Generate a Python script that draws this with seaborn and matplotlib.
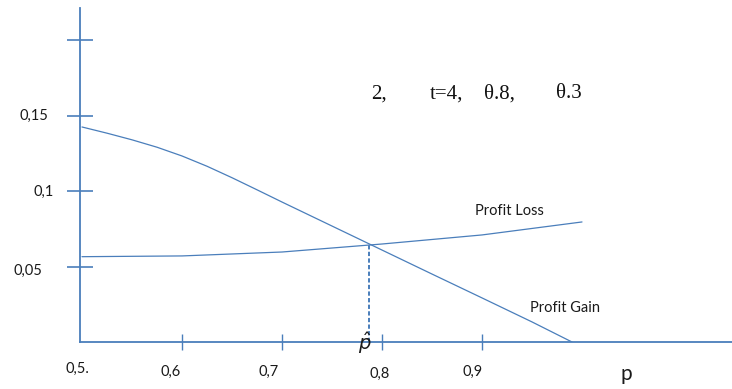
import matplotlib
matplotlib.use("Agg")
import matplotlib.pyplot as plt
import seaborn as sns
import pandas as pd

# Profit curves against p
gain_p = [0.50, 0.525, 0.55, 0.575, 0.60, 0.625, 0.65, 0.675, 0.70, 0.75,
          0.80, 0.85, 0.90, 0.95, 0.990]
gain_v = [0.1424, 0.1383, 0.1339, 0.1290, 0.1232, 0.1164, 0.1088, 0.1008, 0.0927, 0.0768,
          0.0609, 0.0450, 0.0292, 0.0133, 0.0]
loss_p = [0.50, 0.60, 0.70, 0.80, 0.90, 1.00]
loss_v = [0.0565, 0.0570, 0.0596, 0.0649, 0.0709, 0.0795]

p_hat = 0.787
p_hat_v = 0.0645

y_ticks = [0.05, 0.10, 0.15, 0.20]
y_labels = ["0,05", "0,1", "0,15", ""]
x_ticks = [0.6, 0.7, 0.8, 0.9]
x_labels = ["0,6", "0,7", "0,8", "0,9"]

params = ["2,", "t=4,", "θ.8,", "θ.3"]

blue = "#4a7ebb"

sns.set_theme(style="white")
plt.rcParams["font.family"] = ["Lato", "DejaVu Sans"]

fig = plt.figure(figsize=(7.32, 3.89), dpi=100)
ax = fig.add_axes([80 / 732, 47 / 389, 652 / 732, 334 / 389])

df = pd.concat([
    pd.DataFrame({"p": gain_p, "profit": gain_v, "curve": "Profit Gain"}),
    pd.DataFrame({"p": loss_p, "profit": loss_v, "curve": "Profit Loss"}),
])
sns.lineplot(data=df, x="p", y="profit", units="curve", estimator=None,
             color=blue, linewidth=0.9, ax=ax, legend=False, sort=False)

# drop line from the crossing point to the p axis
ax.plot([p_hat, p_hat], [0, p_hat_v], color=blue, linestyle=(0, (2.2, 1.2)),
        linewidth=1.4)

ax.set_xlim(0.498, 1.15)
ax.set_ylim(0, 0.2212)

for side in ["top", "right"]:
    ax.spines[side].set_visible(False)
for side in ["left", "bottom"]:
    ax.spines[side].set_color(blue)
    ax.spines[side].set_linewidth(1.3)

ax.set_xticks(x_ticks)
ax.set_yticks(y_ticks)
ax.tick_params(axis="y", direction="inout", length=19, width=1.2, color=blue,
               labelleft=False, left=True)
ax.tick_params(axis="x", direction="inout", length=11, width=1.0, color=blue,
               labelbottom=False, bottom=True)
ax.set_xlabel("")
ax.set_ylabel("")

label_kw = dict(fontsize=10.5, color="#1a1a1a")
y_offsets = {"0,05": (-38, -4), "0,1": (-26, -1), "0,15": (-32, 0)}
for v, lab in zip(y_ticks, y_labels):
    if lab:
        dx, dy = y_offsets[lab]
        ax.annotate(lab, xy=(0, v), xycoords=("axes fraction", "data"),
                    xytext=(dx, dy), textcoords="offset pixels",
                    ha="right", va="center", **label_kw)

x_offsets = {"0,6": (-11, -30), "0,7": (-13, -30), "0,8": (-2, -32), "0,9": (-9, -30)}
for v, lab in zip(x_ticks, x_labels):
    dx, dy = x_offsets[lab]
    ax.annotate(lab, xy=(v, 0), xycoords=("data", "axes fraction"),
                xytext=(dx, dy), textcoords="offset pixels",
                ha="center", va="center", **label_kw)
ax.annotate("0,5.", xy=(0, 0), xycoords="axes fraction", xytext=(-3, -27),
            textcoords="offset pixels", ha="center", va="center", **label_kw)

ax.annotate("p", xy=(0, 0), xycoords="axes fraction", xytext=(546, -32),
            textcoords="offset pixels", ha="center", va="center",
            fontsize=15, color="#1a1a1a")

ax.annotate(r"$\hat{p}$", xy=(p_hat, 0), xycoords="data", xytext=(-4, -1),
            textcoords="offset pixels", ha="center", va="center",
            fontsize=14, color="#1a1a1a", family="Liberation Serif")

ax.text(0.927, 0.0868, "Profit Loss", fontsize=10.5, color="#1a1a1a",
        ha="center", va="center")
ax.text(0.983, 0.0225, "Profit Gain", fontsize=10.5, color="#1a1a1a",
        ha="center", va="center")

# parameter line in a serif face
serif = dict(family="Liberation Serif", fontsize=15, color="#111111",
             va="center", ha="left")
ty = 1 - 94 / 389
for x_px, s in zip([371, 430, 484, 556], params):
    fig.text(x_px / 732, ty, s, **serif)

fig.savefig("out.png", dpi=100)
